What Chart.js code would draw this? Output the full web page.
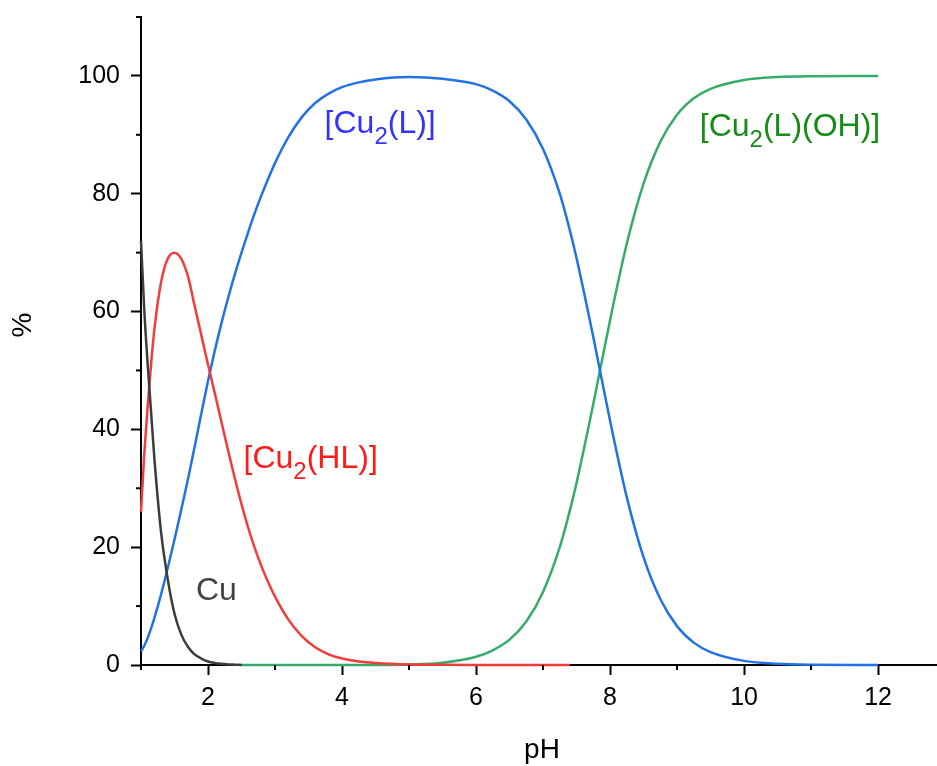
<!DOCTYPE html>
<html>
<head>
<meta charset="utf-8">
<script src="https://cdn.jsdelivr.net/npm/chart.js@4.4.1/dist/chart.umd.min.js"></script>
<style>
  html, body { margin: 0; padding: 0; background: #fff; }
  #wrap { width: 937px; height: 766px; }
</style>
</head>
<body>
<div id="wrap"><canvas id="graphCanvas" width="937" height="766"></canvas></div>
<script>
// pH values the curves were read at
const pH = [1.0, 1.05, 1.1, 1.15, 1.2, 1.3, 1.4, 1.5, 1.6, 1.7, 1.8, 1.9, 2.0, 2.1, 2.2, 2.3, 2.4, 2.5,
  2.6, 2.7, 2.8, 2.9, 3.0, 3.2, 3.4, 3.6, 3.8, 4.0, 4.25, 4.5, 5.0, 5.5, 6.0, 6.25, 6.5, 6.75, 7.0,
  7.25, 7.4, 7.5, 7.75, 7.85, 8.0, 8.25, 8.5, 8.75, 9.0, 9.25, 9.5, 10.0, 10.5, 11.0, 12.0];

// % of each species (null = not plotted)
const cuPct = [72, 60, 51, 43, 35, 22.5, 14.5, 8.7, 5.2, 3.1, 1.8, 1.1, 0.6, 0.35, 0.2, 0.1, 0.05, 0];
const hlPct = [26, 36, 44, 51, 57, 65, 69, 70, 69, 66, 61, 56, 51, 46.2, 41.3, 36.4, 31.7, 27.3,
  23.3, 19.8, 16.7, 14, 11.6, 7.7, 4.9, 3, 1.8, 1.1, 0.6, 0.35, 0.1, 0.03, 0, 0, 0, 0, 0, 0, 0];
const lPct = [2.3, 3.3, 4.6, 6.2, 8, 12, 16.5, 21.3, 26.3, 31.5, 37, 42.7, 48.2, 53.3, 58, 62.3, 66.3, 70,
  73.5, 76.8, 79.8, 82.6, 85.2, 89.6, 93, 95.4, 97, 98.1, 98.9, 99.4, 99.8, 99.5, 98.6, 97.5, 95.7, 92.6, 87.6,
  80, 73.8, 69.1, 55.7, 50, 41.5, 28.5, 18.3, 11.2, 6.6, 3.8, 2.2, 0.7, 0.2, 0.05, 0];
const lohPct = [null, null, null, null, null, null, null, null, null, null, null, null, null, null, null, null, null, 0,
  0, 0, 0, 0, 0, 0, 0, 0, 0, 0, 0, 0, 0.1, 0.4, 1.4, 2.5, 4.3, 7.4, 12.4,
  20, 26.2, 30.9, 44.3, 50, 58.5, 71.5, 81.7, 88.8, 93.4, 96.2, 97.8, 99.3, 99.8, 99.95, 100];

const xTicks = [1, 2, 3, 4, 5, 6, 7, 8, 9, 10, 11, 12];
const yTicks = [0, 10, 20, 30, 40, 50, 60, 70, 80, 90, 100, 110];

function pts(arr) {
  return arr.map((v, i) => (v === null ? null : { x: pH[i], y: v })).filter(Boolean);
}

const FONT = "'Liberation Sans', Arial, sans-serif";

// species labels, drawn in data coordinates
const speciesLabels = [
  { parts: [["[Cu"], ["2", true], ["(L)]"]], x: 3.74, y: 90.3, color: "#3333ff" },
  { parts: [["[Cu"], ["2", true], ["(HL)]"]], x: 2.53, y: 33.4, color: "#ff1a1a" },
  { parts: [["[Cu"], ["2", true], ["(L)(OH)]"]], x: 9.34, y: 89.8, color: "#168c16" },
  { parts: [["Cu"]], x: 1.82, y: 11.0, color: "#444444" },
];

const decorPlugin = {
  id: "decor",
  afterDraw(chart) {
    const ctx = chart.ctx;
    const xs = chart.scales.x, ys = chart.scales.y;
    const area = chart.chartArea;
    ctx.save();
    // minor ticks
    ctx.strokeStyle = "#000";
    ctx.lineWidth = 2;
    xTicks.filter((v) => v % 2 == 1).forEach((v) => {
      const px = xs.getPixelForValue(v);
      ctx.beginPath();
      ctx.moveTo(px, area.bottom);
      ctx.lineTo(px, area.bottom + 5);
      ctx.stroke();
    });
    yTicks.filter((v) => v % 20 == 10).forEach((v) => {
      const py = ys.getPixelForValue(v);
      ctx.beginPath();
      ctx.moveTo(area.left - 5, py);
      ctx.lineTo(area.left, py);
      ctx.stroke();
    });
    // species labels
    ctx.textBaseline = "alphabetic";
    ctx.textAlign = "left";
    speciesLabels.forEach((lab) => {
      let px = xs.getPixelForValue(lab.x);
      const py = ys.getPixelForValue(lab.y);
      ctx.fillStyle = lab.color;
      lab.parts.forEach(([t, sub]) => {
        ctx.font = (sub ? "24px " : "32px ") + FONT;
        ctx.fillText(t, px, sub ? py + 11 : py);
        px += ctx.measureText(t).width;
      });
    });
    // axis titles
    ctx.fillStyle = "#000";
    ctx.font = "28px " + FONT;
    ctx.textAlign = "center";
    ctx.textBaseline = "middle";
    ctx.fillText("pH", 542, 750);
    ctx.translate(23, 325);
    ctx.rotate(-Math.PI / 2);
    ctx.fillText("%", 0, 0);
    ctx.restore();
  },
};

const lineDefaults = {
  pointRadius: 0,
  borderWidth: 2.5,
  fill: false,
  clip: false,
  cubicInterpolationMode: "monotone",
};

let ctx = document.getElementById("graphCanvas").getContext("2d");
let graphChart = new Chart(ctx, {
  type: "line",
  data: {
    datasets: [
      { ...lineDefaults, label: "Cu", data: pts(cuPct), borderColor: "#3c3c3c" },
      { ...lineDefaults, label: "[Cu2(HL)]", data: pts(hlPct), borderColor: "#f23c3c" },
      { ...lineDefaults, label: "[Cu2(L)]", data: pts(lPct), borderColor: "#2272e6" },
      { ...lineDefaults, label: "[Cu2(L)(OH)]", data: pts(lohPct), borderColor: "#36ab6a" },
    ],
  },
  options: {
    responsive: false,
    animation: false,
    layout: { padding: { top: 17, right: 0, bottom: 0, left: 0 } },
    plugins: { legend: { display: false }, tooltip: { enabled: false } },
    scales: {
      x: {
        type: "linear",
        min: 1,
        max: 12.88,
        afterBuildTicks: (s) => { s.ticks = xTicks.map((v) => ({ value: v })); },
        afterFit: (s) => { s.height = 101; s.paddingLeft = 0; s.paddingRight = 0; },
        ticks: {
          autoSkip: false,
          maxRotation: 0,
          padding: 8,
          color: "#000",
          font: { family: FONT, size: 25 },
          callback: (v) => (v % 2 == 0 ? v : ""),
        },
        grid: {
          drawOnChartArea: false,
          tickLength: 10,
          tickWidth: 2,
          tickColor: (c) => (c.tick && c.tick.value % 2 == 0 ? "#000" : "rgba(0,0,0,0)"),
        },
        border: { color: "#000", width: 2 },
      },
      y: {
        min: 0,
        max: 110,
        afterBuildTicks: (s) => { s.ticks = yTicks.map((v) => ({ value: v })); },
        afterFit: (s) => { s.width = 141; s.paddingTop = 0; s.paddingBottom = 0; },
        ticks: {
          padding: 11,
          color: "#000",
          font: { family: FONT, size: 25 },
          callback: (v) => (v % 20 == 0 ? v : ""),
        },
        grid: {
          drawOnChartArea: false,
          tickLength: 10,
          tickWidth: 2,
          tickColor: (c) => (c.tick && c.tick.value % 20 == 0 ? "#000" : "rgba(0,0,0,0)"),
        },
        border: { color: "#000", width: 2 },
      },
    },
  },
  plugins: [decorPlugin],
});
</script>
</body>
</html>
